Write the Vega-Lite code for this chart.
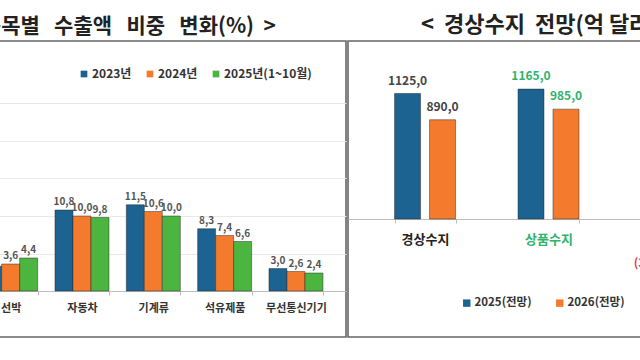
{
  "$schema": "https://vega.github.io/schema/vega-lite/v6.json",
  "padding": {"left": -100, "right": -107, "top": 13, "bottom": 4},
  "spacing": 0,
  "config": {
    "font": "Noto Sans CJK KR",
    "view": {"stroke": "#666", "strokeWidth": 1.6},
    "locale": {"number": {"decimal": ",", "thousands": ".", "grouping": [3], "currency": ["", ""]}},
    "title": {"fontSize": 21, "fontWeight": "bold", "color": "#222", "offset": 4, "font": "Noto Sans CJK KR"}
  },
  "resolve": {"scale": {"color": "independent", "x": "independent", "y": "independent", "xOffset": "independent"}},
  "hconcat": [
    {
      "width": 445,
      "height": 296,
      "title": {"text": "<\u00a0\u00a0품목별\u00a0\u00a0\u00a0수출액\u00a0\u00a0\u00a0비중\u00a0\u00a0\u00a0변화(%)\u00a0\u00a0>", "anchor": "end", "dx": -70},
      "data": {"values": [
        {"item": "선박", "year": "2023년", "share": 3.3},
        {"item": "선박", "year": "2024년", "share": 3.6},
        {"item": "선박", "year": "2025년(1~10월)", "share": 4.4},
        {"item": "자동차", "year": "2023년", "share": 10.8},
        {"item": "자동차", "year": "2024년", "share": 10.0},
        {"item": "자동차", "year": "2025년(1~10월)", "share": 9.8},
        {"item": "기계류", "year": "2023년", "share": 11.5},
        {"item": "기계류", "year": "2024년", "share": 10.6},
        {"item": "기계류", "year": "2025년(1~10월)", "share": 10.0},
        {"item": "석유제품", "year": "2023년", "share": 8.3},
        {"item": "석유제품", "year": "2024년", "share": 7.4},
        {"item": "석유제품", "year": "2025년(1~10월)", "share": 6.6},
        {"item": "무선통신기기", "year": "2023년", "share": 3.0},
        {"item": "무선통신기기", "year": "2024년", "share": 2.6},
        {"item": "무선통신기기", "year": "2025년(1~10월)", "share": 2.4}
      ]},
      "encoding": {
        "x": {"field": "item", "type": "nominal", "sort": null,
          "scale": {"paddingInner": 0.243, "paddingOuter": 0.741, "align": 0.782},
          "axis": {"title": null, "labelAngle": 0, "offset": -46, "tickBand": "extent", "domainColor": "#bdbdbd", "tickColor": "#bdbdbd", "tickSize": 4, "labelPadding": 7, "labelFontSize": 11, "labelFontWeight": "bold", "labelColor": "#333", "grid": false}},
        "xOffset": {"field": "year", "type": "nominal", "sort": null, "scale": {"paddingInner": 0, "paddingOuter": 0}},
        "y": {"field": "share", "type": "quantitative", "stack": null,
          "scale": {"domain": [-6.13, 33.33], "nice": false, "zero": false},
          "axis": {"title": null, "labels": false, "ticks": false, "domain": false, "values": [5, 10, 15, 20, 25], "gridColor": "#e8e8e8"}}
      },
      "layer": [
        {
          "mark": {"type": "bar", "stroke": "#222", "strokeOpacity": 0.45, "strokeWidth": 1},
          "encoding": {
            "color": {"field": "year", "type": "nominal", "sort": null,
              "scale": {"domain": ["2023년", "2024년", "2025년(1~10월)"], "range": ["#1d6391", "#f47a2d", "#4cb540"]},
              "legend": {"title": null, "orient": "none", "legendX": 177, "legendY": 27, "direction": "horizontal", "symbolType": "square", "symbolSize": 45, "symbolStrokeWidth": 0, "labelFontSize": 12, "labelFontWeight": "bold", "labelColor": "#333", "columnPadding": 12, "labelOffset": 2}}
          }
        },
        {
          "mark": {"type": "text", "baseline": "bottom", "dy": -3, "fontSize": 10, "color": "#555", "fontWeight": "bold"},
          "encoding": {"text": {"field": "share", "type": "quantitative", "format": ".1f"}}
        }
      ]
    },
    {
      "width": 401,
      "height": 296,
      "title": {"text": "<\u00a0\u00a0경상수지\u00a0\u00a0전망(억\u00a0달러)\u00a0\u00a0>", "anchor": "start", "dx": 73, "fontSize": 22},
      "data": {"values": [
        {"item": "경상수지", "period": "2025(전망)", "amount": 1125.0, "label": "1125,0"},
        {"item": "경상수지", "period": "2026(전망)", "amount": 890.0, "label": "890,0"},
        {"item": "상품수지", "period": "2025(전망)", "amount": 1165.0, "label": "1165,0"},
        {"item": "상품수지", "period": "2026(전망)", "amount": 985.0, "label": "985,0"},
        {"item": "서비스수지", "period": "2025(전망)", "amount": -300.0, "label": "(300,0)"},
        {"item": "서비스수지", "period": "2026(전망)", "amount": -250.0, "label": "(250,0)"}
      ]},
      "encoding": {
        "x": {"field": "item", "type": "nominal", "sort": null,
          "scale": {"paddingInner": 0.506, "paddingOuter": 0.377},
          "axis": {"title": null, "labelAngle": 0, "offset": -118, "tickBand": "extent", "domainColor": "#bdbdbd", "tickColor": "#bdbdbd", "tickSize": 4, "labelPadding": 10, "labelFontSize": 13, "labelFontWeight": "bold",
            "labelColor": {"condition": {"test": "datum.value === '상품수지'", "value": "#2fb36d"}, "value": "#222"}, "grid": false}},
        "xOffset": {"field": "period", "type": "nominal", "sort": null, "scale": {"paddingInner": 0.257, "paddingOuter": 0}},
        "y": {"field": "amount", "type": "quantitative", "stack": null,
          "scale": {"domain": [-1058, 1596], "nice": false, "zero": false},
          "axis": null}
      },
      "layer": [
        {
          "mark": {"type": "bar", "stroke": "#222", "strokeOpacity": 0.45, "strokeWidth": 1},
          "encoding": {
            "color": {"field": "period", "type": "nominal", "sort": null,
              "scale": {"domain": ["2025(전망)", "2026(전망)"], "range": ["#1d6391", "#f47a2d"]},
              "legend": {"title": null, "orient": "none", "legendX": 113, "legendY": 256, "direction": "horizontal", "symbolType": "square", "symbolSize": 55, "symbolStrokeWidth": 0, "labelFontSize": 11.5, "labelFontWeight": "bold", "labelColor": "#333", "columnPadding": 22, "labelOffset": 2}}
          }
        },
        {
          "transform": [{"filter": "datum.amount >= 0"}],
          "mark": {"type": "text", "baseline": "bottom", "dy": -6, "fontSize": 12, "fontWeight": "bold"},
          "encoding": {
            "text": {"field": "label", "type": "nominal"},
            "color": {"condition": {"test": "datum.item === '상품수지'", "value": "#2fb36d"}, "value": "#444"}
          }
        },
        {
          "transform": [{"filter": "datum.amount < 0"}],
          "mark": {"type": "text", "baseline": "top", "dy": 6, "fontSize": 12, "fontWeight": "bold", "color": "#e8344e"},
          "encoding": {
            "text": {"field": "label", "type": "nominal"}
          }
        }
      ]
    }
  ]
}
